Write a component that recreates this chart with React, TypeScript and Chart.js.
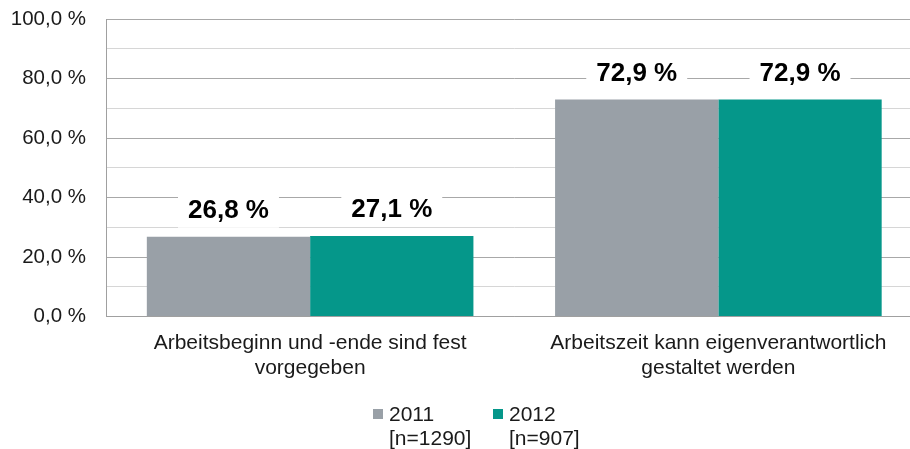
import React, { useEffect, useRef } from "react";
import { Chart, registerables } from "chart.js";

Chart.register(...registerables);

const categories: string[][] = [
  ["Arbeitsbeginn und -ende sind fest", "vorgegeben"],
  ["Arbeitszeit kann eigenverantwortlich", "gestaltet werden"],
];
const seriesNames: string[] = ["2011", "2012"];
const seriesSubNames: string[] = ["[n=1290]", "[n=907]"];
const values2011: number[] = [26.8, 72.9];
const values2012: number[] = [27.1, 72.9];
const seriesColors: string[] = ["#99A0A7", "#05978A"];

const FONT = '"Liberation Sans", Arial, Helvetica, sans-serif';
const fmt = (v: number) => v.toFixed(1).replace(".", ",") + " %";

const W = 940;
const H = 449;

const valueLabelPlugin = {
  id: "valueLabels",
  afterDatasetsDraw(chart: any) {
    const ctx = chart.ctx;
    ctx.save();
    ctx.font = `bold 26px ${FONT}`;
    ctx.textAlign = "center";
    ctx.textBaseline = "middle";
    chart.data.datasets.forEach((ds: any, i: number) => {
      const meta = chart.getDatasetMeta(i);
      meta.data.forEach((el: any, j: number) => {
        const text = fmt(ds.data[j]);
        const cx = el.x;
        const cy = el.y - 27;
        const tw = ctx.measureText(text).width;
        ctx.fillStyle = "#ffffff";
        ctx.fillRect(cx - tw / 2 - 10, cy - 18, tw + 20, 36);
        ctx.fillStyle = "#000000";
        ctx.fillText(text, cx, cy + 1);
      });
    });
    ctx.restore();
  },
};

const legendPlugin = {
  id: "customLegend",
  afterDraw(chart: any) {
    const ctx = chart.ctx;
    ctx.save();
    ctx.font = `21px ${FONT}`;
    ctx.textAlign = "left";
    ctx.textBaseline = "middle";
    const starts = [373, 493];
    chart.data.datasets.forEach((ds: any, i: number) => {
      const x = starts[i];
      ctx.fillStyle = ds.backgroundColor;
      ctx.fillRect(x, 409, 10, 10);
      ctx.fillStyle = "#1a1a1a";
      ctx.fillText(seriesNames[i], x + 16, 415);
      ctx.fillText(seriesSubNames[i], x + 16, 439);
    });
    ctx.restore();
  },
};

export default function App() {
  const ref = useRef<HTMLCanvasElement | null>(null);
  useEffect(() => {
    if (!ref.current) return;
    const chart = new Chart(ref.current, {
      type: "bar",
      data: {
        labels: categories,
        datasets: [
          {
            label: seriesNames[0],
            data: values2011,
            backgroundColor: seriesColors[0],
            categoryPercentage: 0.8,
            barPercentage: 1.0,
          },
          {
            label: seriesNames[1],
            data: values2012,
            backgroundColor: seriesColors[1],
            categoryPercentage: 0.8,
            barPercentage: 1.0,
          },
        ],
      },
      options: {
        responsive: false,
        animation: false,
        layout: { padding: { top: 19, left: 0, right: W - 922.5, bottom: 0 } },
        plugins: {
          legend: { display: false },
          tooltip: { enabled: false },
        },
        scales: {
          x: {
            grid: { display: false, drawTicks: false },
            border: { display: true, color: "#a0a0a0", width: 1 },
            ticks: {
              color: "#1a1a1a",
              font: { family: FONT, size: 21, lineHeight: 1.15 },
              padding: 15,
              maxRotation: 0,
              autoSkip: false,
            },
            afterFit(scale: any) {
              scale.height = H - 316.5;
            },
          },
          y: {
            min: 0,
            max: 100,
            grid: {
              drawTicks: false,
              color: (c: any) =>
                c.tick && c.tick.value % 20 === 0 ? "#a8a8a8" : "#d6d6d6",
              lineWidth: 1,
            },
            border: { display: true, color: "#a0a0a0", width: 1 },
            ticks: {
              stepSize: 10,
              color: "#1a1a1a",
              font: { family: FONT, size: 20.5 },
              padding: 20,
              callback: (v: any) => (Number(v) % 20 === 0 ? fmt(Number(v)) : ""),
            },
            afterFit(scale: any) {
              scale.width = 106;
              scale.paddingTop = 0;
              scale.paddingBottom = 0;
            },
          },
        },
      },
      plugins: [valueLabelPlugin, legendPlugin],
    });
    return () => chart.destroy();
  }, []);
  return (
    <div
      style={{
        position: "absolute",
        left: 0,
        top: 0,
        width: 910,
        height: 449,
        overflow: "hidden",
        background: "#ffffff",
      }}
    >
      <canvas ref={ref} width={W} height={H} style={{ width: W, height: H, display: "block" }} />
    </div>
  );
}
